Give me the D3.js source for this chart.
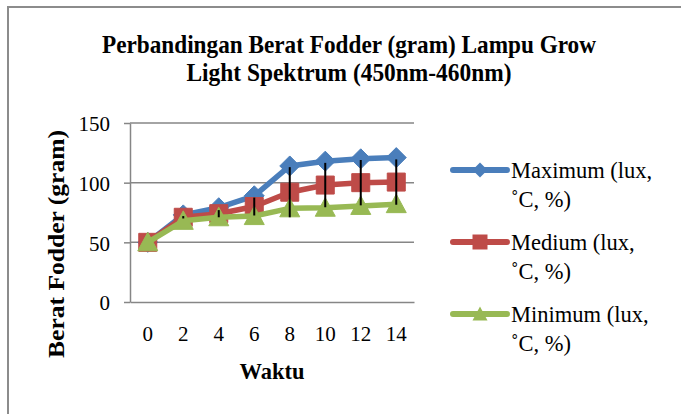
<!DOCTYPE html>
<head>
	<script src="https://d3js.org/d3.v7.min.js"></script>
	<style type="text/css">
		body { margin: 0; background: #fff; }
		svg { display: block; }
		svg text { font-family: "Liberation Serif", "Times New Roman", "DejaVu Serif", serif !important; }
	</style>
</head>
<body>
	<div id="chart"></div>
</body>
<script>

	// data
	var waktu = ["0", "2", "4", "6", "8", "10", "12", "14"];
	var maximum = [50, 73, 79, 89, 114, 118, 120, 121];
	var medium = [50, 71, 74, 80, 92, 98, 100, 100.5];
	var minimum = [50, 68, 71, 72, 78.5, 79, 80.5, 82];
	var mediumErr = [0, 1, 3, 7.5, 21, 18.6, 19, 19];
	var yTicks = [0, 50, 100, 150];
	var seriesNames = ["Maximum (lux,", "Medium (lux,", "Minimum (lux,"];

	var width = 681;
	var height = 414;

	var series = [
		{ name: seriesNames[0], values: maximum, color: "#4a7ebb", marker: "diamond" },
		{ name: seriesNames[1], values: medium, color: "#be4b48", marker: "square" },
		{ name: seriesNames[2], values: minimum, color: "#98b954", marker: "triangle" }
	];

	var svg = d3.select("#chart").append("svg")
		.attr("width", width)
		.attr("height", height);

	// outer frame (cut off at right and bottom)
	svg.append("rect")
		.attr("x", 8).attr("y", 7)
		.attr("width", 720).attr("height", 440)
		.attr("fill", "#fff")
		.attr("stroke", "#8c8c8c")
		.attr("stroke-width", 2);

	// title
	var title = svg.append("text")
		.attr("text-anchor", "middle")
		.attr("font-weight", "bold")
		.attr("font-size", 25)
		.attr("fill", "#000");
	title.append("tspan").attr("x", 349).attr("y", 53)
		.attr("textLength", 494).attr("lengthAdjust", "spacingAndGlyphs")
		.text("Perbandingan Berat Fodder (gram) Lampu Grow");
	title.append("tspan").attr("x", 349).attr("y", 81)
		.attr("textLength", 325).attr("lengthAdjust", "spacingAndGlyphs")
		.text("Light Spektrum (450nm-460nm)");

	var x = d3.scaleBand()
		.domain(waktu)
		.range([130, 414])
		.padding(0);

	var y = d3.scaleLinear()
		.domain([0, 150])
		.range([302, 123]);

	var cx = function (i) { return x(waktu[i]) + x.bandwidth() / 2; };

	// gridlines
	svg.append("g")
		.selectAll("line")
		.data(yTicks.filter(d => d > 0))
		.enter().append("line")
		.attr("x1", 130).attr("x2", 414)
		.attr("y1", d => y(d)).attr("y2", d => y(d))
		.attr("stroke", "#868686")
		.attr("stroke-width", 1.5);

	// axes
	var yAxis = svg.append("g")
		.attr("transform", "translate(130,0)")
		.call(d3.axisLeft(y).tickValues(yTicks).tickSize(6).tickSizeOuter(0).tickPadding(14));
	yAxis.selectAll("line").attr("stroke", "#868686").attr("stroke-width", 1.5);
	yAxis.select(".domain").attr("stroke", "#868686").attr("stroke-width", 1.5);
	yAxis.selectAll("text")
		.attr("font-size", 21)
		.attr("dy", "0.38em")
		.attr("fill", "#000");

	var xAxis = svg.append("g")
		.attr("transform", "translate(0,302)")
		.call(d3.axisBottom(x).tickSize(0).tickSizeOuter(0));
	xAxis.select(".domain").attr("stroke", "#868686").attr("stroke-width", 1.5);
	xAxis.selectAll("text")
		.attr("font-size", 21)
		.attr("dy", null)
		.attr("y", 39)
		.attr("fill", "#000");

	// axis titles
	svg.append("text")
		.attr("x", 272).attr("y", 379)
		.attr("text-anchor", "middle")
		.attr("font-weight", "bold")
		.attr("font-size", 23)
		.attr("textLength", 65).attr("lengthAdjust", "spacingAndGlyphs")
		.text("Waktu");

	svg.append("text")
		.attr("transform", "translate(64,244) rotate(-90)")
		.attr("text-anchor", "middle")
		.attr("font-weight", "bold")
		.attr("font-size", 23)
		.attr("textLength", 228).attr("lengthAdjust", "spacingAndGlyphs")
		.text("Berat Fodder (gram)");

	// markers
	function markerPath(type, s) {
		var h = s / 2;
		if (type === "diamond") return "M0," + (-h) + "L" + h + ",0L0," + h + "L" + (-h) + ",0Z";
		if (type === "square") return "M" + (-h) + "," + (-h) + "H" + h + "V" + h + "H" + (-h) + "Z";
		return "M0," + (-h) + "L" + h + "," + (h * 0.85) + "L" + (-h) + "," + (h * 0.85) + "Z";
	}

	var line = d3.line()
		.x((d, i) => cx(i))
		.y(d => y(d));

	series.forEach(function (s) {
		var g = svg.append("g");
		g.append("path")
			.attr("d", line(s.values))
			.attr("fill", "none")
			.attr("stroke", s.color)
			.attr("stroke-width", 5.5)
			.attr("stroke-linejoin", "round");
		g.selectAll("path.m")
			.data(s.values)
			.enter().append("path")
			.attr("class", "m")
			.attr("transform", (d, i) => "translate(" + cx(i) + "," + y(d) + ")")
			.attr("d", markerPath(s.marker, s.marker === "square" ? 18 : 20))
			.attr("fill", s.color)
			.attr("stroke", s.color)
			.attr("stroke-width", 1);
	});

	// error bars on the medium series
	svg.append("g")
		.selectAll("line")
		.data(medium)
		.enter().append("line")
		.attr("x1", (d, i) => cx(i)).attr("x2", (d, i) => cx(i))
		.attr("y1", (d, i) => y(d - mediumErr[i]))
		.attr("y2", (d, i) => y(d + mediumErr[i]))
		.attr("stroke", "#000")
		.attr("stroke-width", 2);

	// legend
	var legend = svg.append("g")
		.selectAll("g")
		.data(series)
		.enter().append("g")
		.attr("transform", (d, i) => "translate(0," + (170 + i * 72) + ")");
	legend.append("line")
		.attr("x1", 453).attr("x2", 507)
		.attr("y1", 0).attr("y2", 0)
		.attr("stroke", d => d.color)
		.attr("stroke-width", 6)
		.attr("stroke-linecap", "round");
	legend.append("path")
		.attr("transform", "translate(480,0)")
		.attr("d", d => markerPath(d.marker, 15))
		.attr("fill", d => d.color);
	var lt = legend.append("text")
		.attr("font-size", 22.5)
		.attr("fill", "#000");
	lt.append("tspan").attr("x", 511).attr("y", 8).text(d => d.name);
	lt.append("tspan").attr("x", 511).attr("y", 37).text("˚C, %)");

</script>
